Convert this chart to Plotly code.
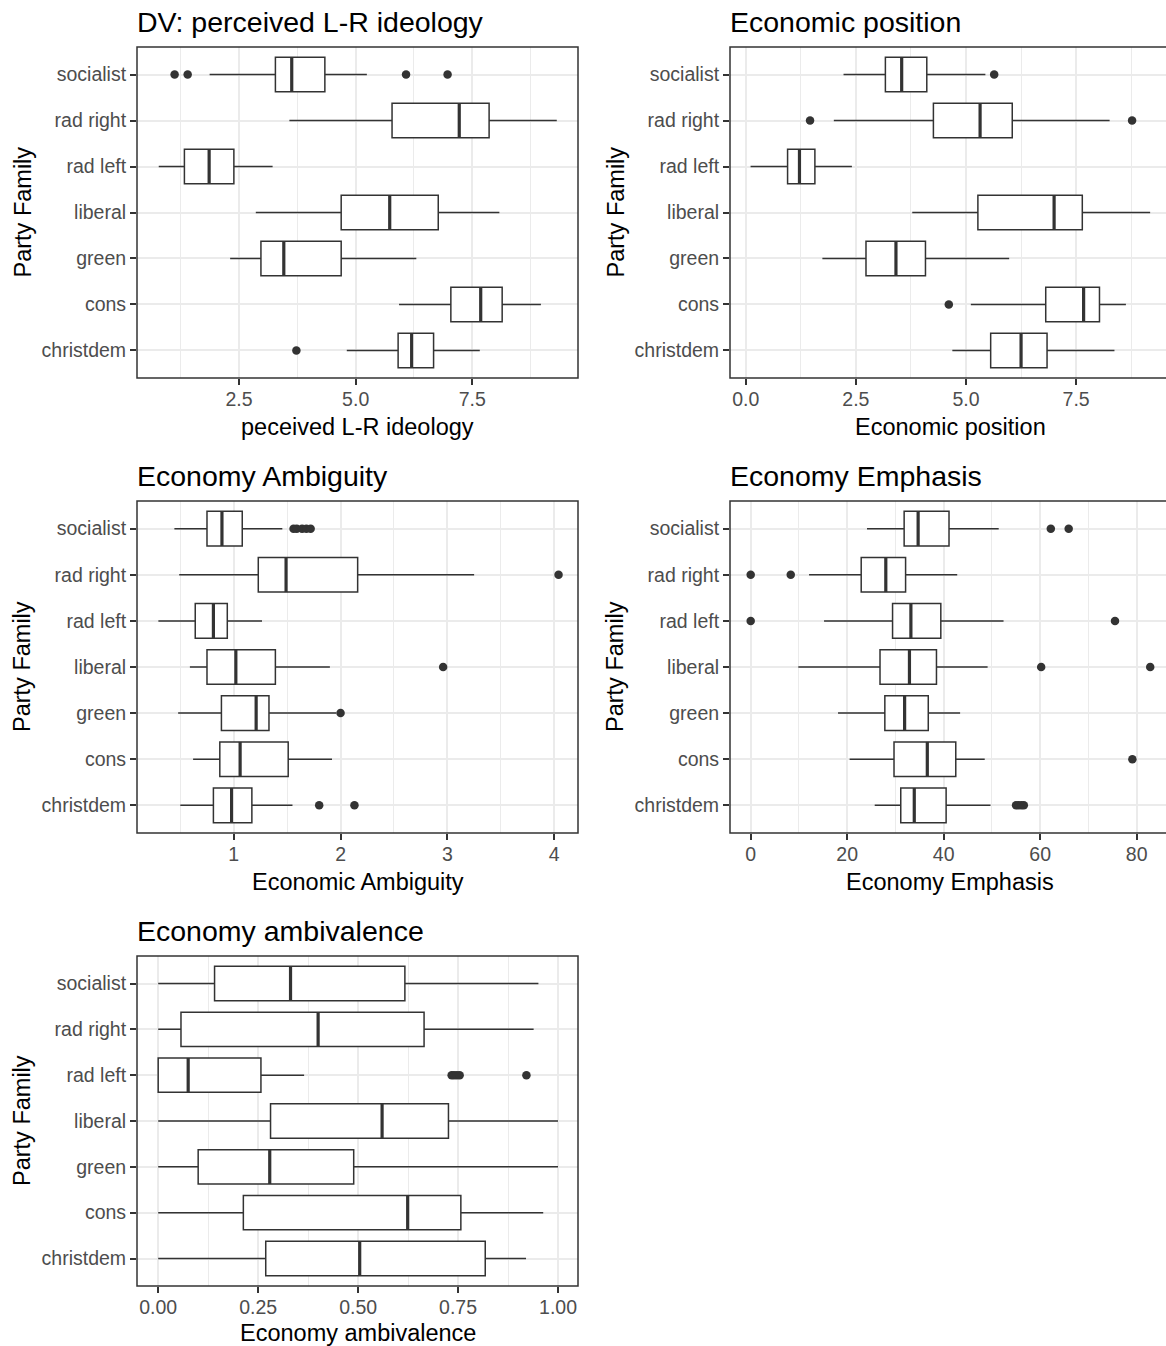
import plotly.graph_objects as go

W, H = 1166, 1346

# categories, bottom to top
cats = ["christdem", "cons", "green", "liberal", "rad left", "rad right", "socialist"]

# ---- Panel 1: perceived L-R ideology ----
lr_low = [4.81, 5.93, 2.31, 2.86, 0.78, 3.58, 1.87]
lr_q1 = [5.91, 7.04, 2.97, 4.69, 1.33, 5.78, 3.28]
lr_med = [6.20, 7.68, 3.46, 5.73, 1.86, 7.22, 3.63]
lr_q3 = [6.67, 8.14, 4.69, 6.77, 2.39, 7.86, 4.34]
lr_high = [7.66, 8.97, 6.30, 8.08, 3.22, 9.31, 5.24]
lr_out = [[3.73], [], [], [], [], [], [1.12, 1.40, 6.08, 6.97]]

# ---- Panel 2: Economic position ----
ep_low = [4.69, 5.11, 1.74, 3.78, 0.11, 2.00, 2.22]
ep_q1 = [5.56, 6.81, 2.73, 5.27, 0.95, 4.26, 3.17]
ep_med = [6.25, 7.67, 3.41, 7.00, 1.22, 5.32, 3.54]
ep_q3 = [6.84, 8.03, 4.08, 7.64, 1.57, 6.05, 4.11]
ep_high = [8.37, 8.63, 5.98, 9.18, 2.41, 8.26, 5.44]
ep_out = [[], [4.61], [], [], [], [1.46, 8.77], [5.64]]

# ---- Panel 3: Economic Ambiguity ----
ea_low = [0.50, 0.62, 0.48, 0.59, 0.295, 0.49, 0.445]
ea_q1 = [0.81, 0.87, 0.885, 0.75, 0.64, 1.23, 0.75]
ea_med = [0.98, 1.06, 1.21, 1.02, 0.81, 1.49, 0.89]
ea_q3 = [1.17, 1.51, 1.33, 1.39, 0.94, 2.16, 1.08]
ea_high = [1.55, 1.92, 1.96, 1.90, 1.265, 3.25, 1.455]
ea_out = [[1.80, 2.13], [], [2.00], [2.96], [], [4.04], [1.56, 1.59, 1.64, 1.68, 1.72]]

# ---- Panel 4: Economy Emphasis ----
em_low = [25.7, 20.5, 18.1, 9.86, 15.2, 12.1, 24.1]
em_q1 = [31.1, 29.7, 27.8, 26.8, 29.4, 22.9, 31.8]
em_med = [33.9, 36.6, 31.9, 32.9, 33.2, 28.0, 34.7]
em_q3 = [40.5, 42.5, 36.8, 38.5, 39.4, 32.1, 41.1]
em_high = [49.7, 48.5, 43.4, 49.1, 52.4, 42.8, 51.4]
em_out = [[55.0, 55.5, 56.1, 56.6], [79.1], [], [60.2, 82.8], [0.0, 75.5], [0.0, 8.3], [62.2, 65.9]]

# ---- Panel 5: Economy ambivalence ----
av_low = [0.0, 0.0, 0.0, 0.0, 0.0, 0.0, 0.0]
av_q1 = [0.269, 0.213, 0.10, 0.281, 0.0, 0.057, 0.141]
av_med = [0.504, 0.624, 0.279, 0.56, 0.075, 0.40, 0.331]
av_q3 = [0.818, 0.757, 0.489, 0.726, 0.257, 0.665, 0.617]
av_high = [0.92, 0.963, 1.0, 1.0, 0.365, 0.939, 0.951]
av_out = [[], [], [], [], [0.734, 0.740, 0.747, 0.754, 0.921], [], []]

titles = ["DV: perceived L-R ideology", "Economic position", "Economy Ambiguity",
          "Economy Emphasis", "Economy ambivalence"]
xtitles = ["peceived L-R ideology", "Economic position", "Economic Ambiguity",
           "Economy Emphasis", "Economy ambivalence"]
ytitle = "Party Family"

x_major = [[2.5, 5.0, 7.5], [0.0, 2.5, 5.0, 7.5], [1, 2, 3, 4], [0, 20, 40, 60, 80],
           [0.0, 0.25, 0.5, 0.75, 1.0]]
x_major_text = [["2.5", "5.0", "7.5"], ["0.0", "2.5", "5.0", "7.5"], ["1", "2", "3", "4"],
                ["0", "20", "40", "60", "80"], ["0.00", "0.25", "0.50", "0.75", "1.00"]]
x_minor = [[1.25, 3.75, 6.25, 8.75], [1.25, 3.75, 6.25, 8.75], [0.5, 1.5, 2.5, 3.5],
           [10, 30, 50, 70], [0.125, 0.375, 0.625, 0.875]]
x_ranges = [[0.314, 9.765], [-0.357, 9.54], [0.095, 4.222], [-4.29, 86.07], [-0.053, 1.05]]

panels = [
    (lr_low, lr_q1, lr_med, lr_q3, lr_high, lr_out),
    (ep_low, ep_q1, ep_med, ep_q3, ep_high, ep_out),
    (ea_low, ea_q1, ea_med, ea_q3, ea_high, ea_out),
    (em_low, em_q1, em_med, em_q3, em_high, em_out),
    (av_low, av_q1, av_med, av_q3, av_high, av_out),
]

# panel pixel rectangles (left, top, right, bottom)
rects = [(137, 47, 578, 378), (730, 47, 1166, 378), (137, 501, 578, 833),
         (730, 501, 1166, 833), (137, 956, 578, 1286)]
xtitle_gap = [49, 49, 49, 49, 47]

DARK = "#333333"
GRID = "#EBEBEB"
FONT = "Liberation Sans, Arial, sans-serif"
BW = 0.75

fig = go.Figure()
layout = dict(width=W, height=H, autosize=False, margin=dict(l=0, r=0, t=0, b=0),
              paper_bgcolor="white", plot_bgcolor="white", showlegend=False,
              hovermode=False, font=dict(family=FONT))
shapes = []
annotations = []

for k, (low, q1, med, q3, high, outs) in enumerate(panels):
    n = k + 1
    xa = "x" if n == 1 else f"x{n}"
    ya = "y" if n == 1 else f"y{n}"
    pos = list(range(len(cats)))
    fig.add_trace(go.Box(
        y=pos, q1=q1, median=med, q3=q3, lowerfence=low, upperfence=high,
        orientation="h", width=BW, fillcolor="white",
        line=dict(color=DARK, width=1.5), whiskerwidth=0, boxpoints=False,
        xaxis=xa, yaxis=ya, hoverinfo="skip"))
    mx, my = [], []
    for i, m in enumerate(med):
        mx += [m, m, None]
        my += [i - BW / 2, i + BW / 2, None]
    fig.add_trace(go.Scatter(x=mx, y=my, mode="lines", line=dict(color=DARK, width=3.2),
                             xaxis=xa, yaxis=ya, hoverinfo="skip"))
    ox, oy = [], []
    for i, vals in enumerate(outs):
        for v in vals:
            ox.append(v)
            oy.append(i)
    if ox:
        fig.add_trace(go.Scatter(x=ox, y=oy, mode="markers",
                                 marker=dict(color=DARK, size=8.5, line=dict(width=0)),
                                 xaxis=xa, yaxis=ya, hoverinfo="skip"))

    L, T, R, B = rects[k]
    xdom = [L / W, min(R / W, 1.0)]
    ydom = [1 - B / H, 1 - T / H]
    xkey = "xaxis" if n == 1 else f"xaxis{n}"
    ykey = "yaxis" if n == 1 else f"yaxis{n}"
    layout[xkey] = dict(domain=xdom, anchor=ya, range=x_ranges[k], tickmode="array",
                        tickvals=x_major[k], ticktext=x_major_text[k],
                        showgrid=True, gridcolor=GRID, gridwidth=1.6, zeroline=False,
                        ticks="outside", ticklen=6, tickwidth=1.5, tickcolor=DARK,
                        ticklabelstandoff=-2,
                        tickfont=dict(size=19.5, color="#4D4D4D", family=FONT),
                        minor=dict(tickvals=x_minor[k], showgrid=True, gridcolor=GRID,
                                   gridwidth=0.9, ticks=""),
                        showline=False, fixedrange=True)
    layout[ykey] = dict(domain=ydom, anchor=xa, range=[-0.6, len(cats) - 0.4],
                        tickmode="array", tickvals=pos, ticktext=cats,
                        showgrid=True, gridcolor=GRID, gridwidth=1.6, zeroline=False,
                        ticks="outside", ticklen=6, tickwidth=1.5, tickcolor=DARK,
                        tickfont=dict(size=19.5, color="#4D4D4D", family=FONT),
                        showline=False, fixedrange=True)
    # panel border
    x1 = R / W if R < W else 1.02
    shapes.append(dict(type="rect", xref="paper", yref="paper", x0=L / W, x1=x1,
                       y0=1 - B / H, y1=1 - T / H, line=dict(color=DARK, width=1.5),
                       layer="above"))
    # title
    annotations.append(dict(text=titles[k], xref="paper", yref="paper", x=(L - 2) / W,
                            y=1 - (T - 25) / H, xanchor="left", yanchor="middle",
                            showarrow=False, font=dict(size=28.5, color="black", family=FONT)))
    # x title
    cx = (L + (R if R < W else 1170)) / 2
    annotations.append(dict(text=xtitles[k], xref="paper", yref="paper", x=cx / W,
                            y=1 - (B + xtitle_gap[k]) / H, xanchor="center", yanchor="middle",
                            showarrow=False, font=dict(size=23.5, color="black", family=FONT)))
    # y title
    annotations.append(dict(text=ytitle, xref="paper", yref="paper", x=(L - 115) / W,
                            y=1 - ((T + B) / 2) / H, xanchor="center", yanchor="middle",
                            textangle=-90, showarrow=False,
                            font=dict(size=23.5, color="black", family=FONT)))

layout["shapes"] = shapes
layout["annotations"] = annotations
fig.update_layout(**layout)
fig.write_html("out.html")
